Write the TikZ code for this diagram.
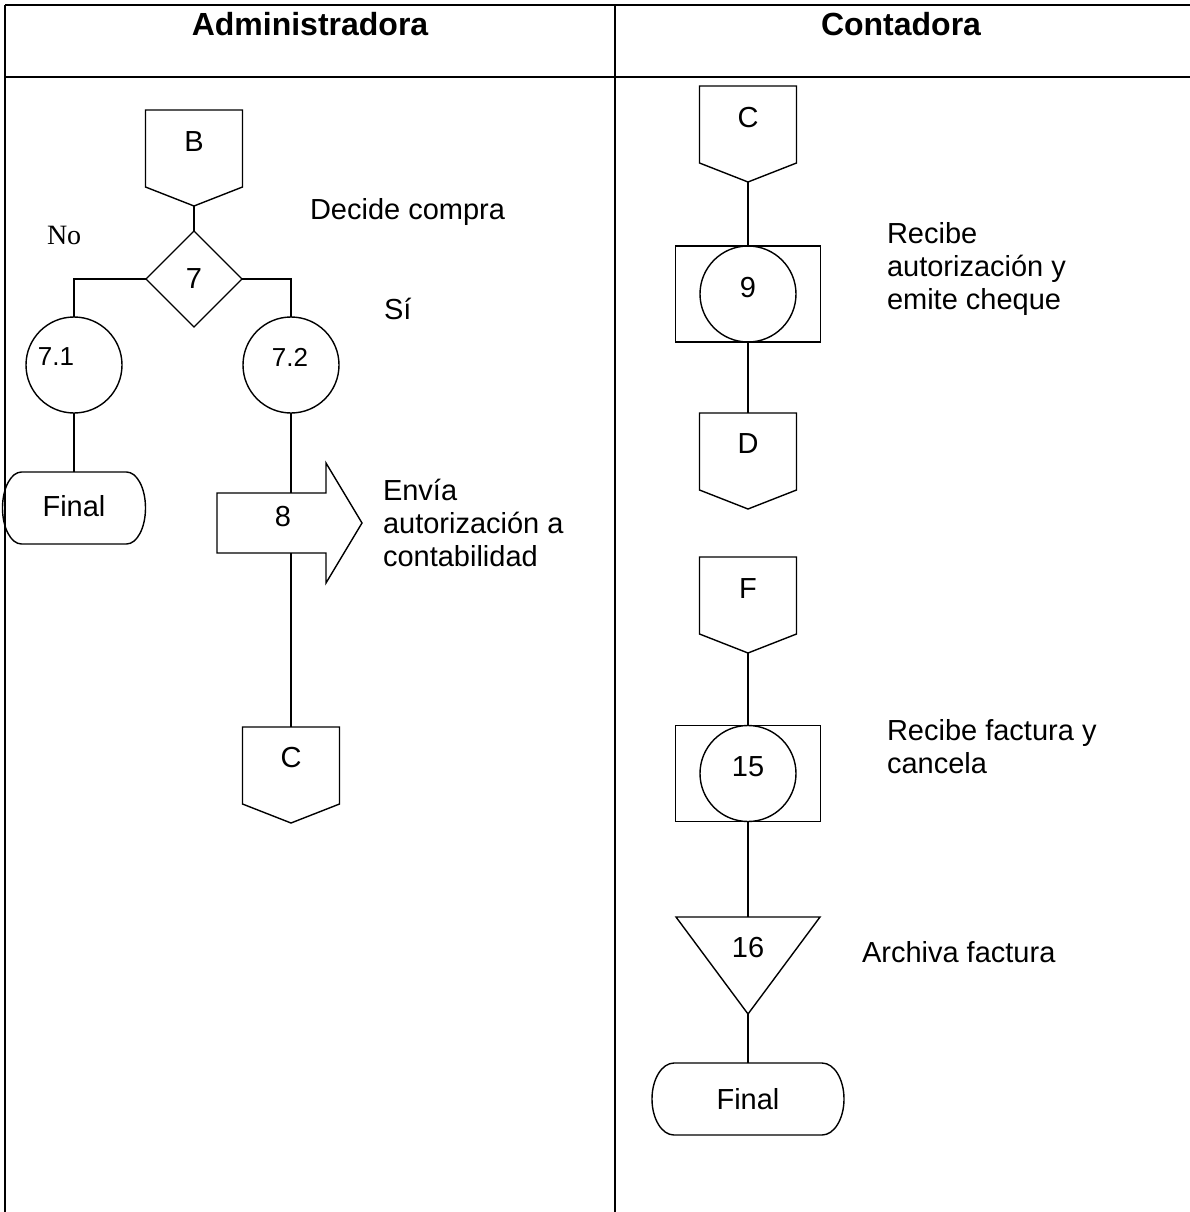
\documentclass[tikz,border=0pt]{standalone}
\usepackage{fontspec}
\setmainfont{Liberation Sans}
\newfontfamily\timesf{Liberation Serif}
\usetikzlibrary{shapes.geometric}
\newcommand{\liftup}[2]{\raisebox{#1}[20pt][0pt]{#2}}
\newcommand{\offpageline}[1]{\draw[ln] (#1.north west) -- (#1.north east) -- ([yshift=19pt]#1.south east) -- (#1.south) -- ([yshift=19pt]#1.south west) -- cycle;}
\newcommand{\termline}[2]{\draw[ln] ([xshift=#2]#1.north west) -- ([xshift=-#2]#1.north east)
  arc[start angle=90,end angle=-90,x radius=#2,y radius=36pt]
  -- ([xshift=#2]#1.south west)
  arc[start angle=270,end angle=90,x radius=#2,y radius=36pt] -- cycle;}
\begin{document}
\begin{tikzpicture}[x=1pt,y=-1pt,
  every node/.style={inner sep=0pt,outer sep=0pt,font=\fontsize{29}{33}\selectfont},
  ln/.style={line width=1.4pt},
  frm/.style={line width=2pt},
  blank/.style={draw=none,rectangle},
  offp/.style={blank,minimum width=97pt,minimum height=96pt},
  proc/.style={draw,ln,circle,minimum size=96pt},
  procbox/.style={draw,ln,rectangle,minimum width=145pt,minimum height=96pt},
  dec/.style={draw,ln,diamond,minimum width=96pt,minimum height=96pt},
  term/.style={blank,minimum height=72pt},
  txt/.style={anchor=base west},
  small/.style={font=\fontsize{26}{30}\selectfont},
  head/.style={font=\bfseries\fontsize{32}{38}\selectfont,anchor=base}
]
\useasboundingbox (0,0) rectangle (1190,1212);

% table frame
\draw[frm] (5,5) -- (1190,5);
\draw[frm] (5,77) -- (1190,77);
\draw[frm] (5,5) -- (5,1212);
\draw[frm] (615,5) -- (615,1212);

\node[head] (h1) at (310,36) {Administradora};
\node[head] (h2) at (901,36) {Contadora};

% ---------- Administradora ----------
\node[offp] (B) at (194,158) {\liftup{16.5pt}{B}};
\offpageline{B}
\node[dec] (d7) at (194,279) {7};
\draw[ln] (B.south) -- (d7.north);

\node[proc] (n71) at (74,365) {};
\node[small] (l71) at (56,357) {7.1};
\node[proc] (n72) at (291,365) {};
\node[small] (l72) at (290,357) {7.2};
\draw[ln] (d7.west) -| (n71.north);
\draw[ln] (d7.east) -| (n72.north);

\node[term,minimum width=143pt] (fL) at (74,508) {\liftup{1.5pt}{Final}};
\termline{fL}{19pt}
\draw[ln] (n71.south) -- (fL.north);

\node[blank,minimum width=145pt,minimum height=120pt] (a8) at (289.5,523) {};
\node (l8) at (283,517) {8};
\draw[ln] ([yshift=30pt]a8.west) -- ([xshift=-36pt,yshift=30pt]a8.east) -- ([xshift=-36pt]a8.north east)
  -- (a8.east) -- ([xshift=-36pt]a8.south east) -- ([xshift=-36pt,yshift=-30pt]a8.east)
  -- ([yshift=-30pt]a8.west) -- cycle;
\coordinate (a8top) at ([yshift=30pt]a8.center);
\coordinate (a8bot) at ([yshift=-30pt]a8.center);
\draw[ln] (n72.south) -- (n72.south |- a8top);

\node[offp] (cL) at (291,775) {\liftup{18pt}{C}};
\offpageline{cL}
\draw[ln] (cL.north |- a8bot) -- (cL.north);

\node[txt] (tdec) at (310,219) {Decide compra};
\node[txt,font=\timesf\fontsize{28}{33}\selectfont] (tno) at (47,244) {No};
\node[txt] (tsi) at (384,319) {Sí};
\node[txt] (tenv) at (383,500) {\begin{tabular}[t]{@{}l@{}}Envía\\autorización a\\contabilidad\end{tabular}};

% ---------- Contadora ----------
\node[offp] (cR) at (748,134) {\liftup{17pt}{C}};
\offpageline{cR}
\node[procbox] (r9) at (748,294) {};
\node[proc] (n9) at (748,294) {\liftup{7pt}{9}};
\draw[ln] (cR.south) -- (r9.north);
\node[offp] (D) at (748,461) {\liftup{18pt}{D}};
\offpageline{D}
\draw[ln] (r9.south) -- (D.north);

\node[offp] (F) at (748,605) {\liftup{17pt}{F}};
\offpageline{F}
\node[procbox] (r15) at (748,773.5) {};
\node[proc] (n15) at (748,773.5) {\liftup{7pt}{15}};
\draw[ln] (F.south) -- (r15.north);

\node[blank,minimum width=144pt,minimum height=97pt] (t16) at (748,965.5) {\liftup{18.5pt}{16}};
\draw[ln] (t16.north west) -- (t16.north east) -- (t16.south) -- cycle;
\draw[ln] (r15.south) -- (t16.north);

\node[term,minimum width=192pt] (fR) at (748,1099) {Final};
\termline{fR}{22pt}
\draw[ln] (t16.south) -- (fR.north);

\node[txt] (trec) at (887,243) {\begin{tabular}[t]{@{}l@{}}Recibe\\autorización y\\emite cheque\end{tabular}};
\node[txt] (tfac) at (887,740) {\begin{tabular}[t]{@{}l@{}}Recibe factura y\\cancela\end{tabular}};
\node[txt] (tarc) at (862,962) {Archiva factura};
\end{tikzpicture}
\end{document}
